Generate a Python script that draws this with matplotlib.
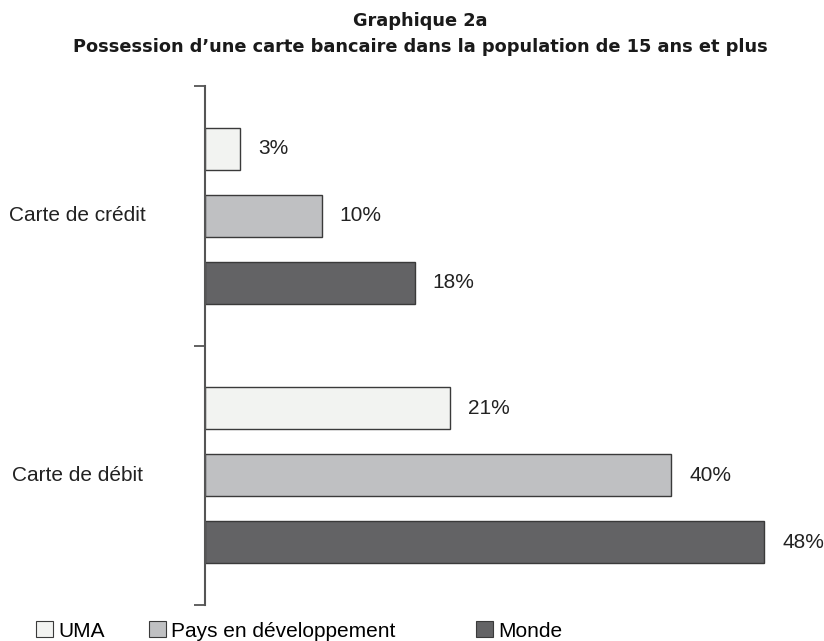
import numpy as np
import matplotlib
matplotlib.use("Agg")
import matplotlib.pyplot as plt
from matplotlib.patches import Patch

# Part de la population de 15 ans et plus possédant une carte (%)
categories = ["Carte de crédit", "Carte de débit"]
series = ["UMA", "Pays en développement", "Monde"]
uma = [3, 21]
pays_dev = [10, 40]
monde = [18, 48]

colors = ["#f2f3f1", "#bfc0c2", "#636365"]
edge = "#3a3a3a"

plt.rcParams["font.family"] = ["Liberation Sans", "DejaVu Sans"]

fig = plt.figure(figsize=(8.24, 6.41), dpi=100)
W, H = 824, 641
ax = fig.add_axes([205 / W, 1 - 605 / H, (811 - 205) / W, (605 - 86) / H])

# crédit en haut (1..2), débit en bas (0..1)
centers = [1.5, 0.5]
offsets = [-0.258, 0.0, 0.258]  # UMA au-dessus, Monde en dessous
bar_h = 0.162

for vals, off, col in zip([uma, pays_dev, monde], offsets, colors):
    ys = [c - off for c in centers]
    ax.barh(ys, vals, height=bar_h, color=col, edgecolor=edge, linewidth=1.0)
    for y, v in zip(ys, vals):
        ax.text(v + 1.55, y, f"{v}%", ha="left", va="center", fontsize=15,
                color="#222222")

for c, name in zip(centers, categories):
    ax.text(-0.21, c, name, transform=ax.get_yaxis_transform(),
            ha="center", va="center", fontsize=15, color="#222222")

ax.set_xlim(0, 52)
ax.set_ylim(0, 2)
ax.set_yticks([0, 1, 2])
ax.set_yticklabels([])
ax.tick_params(axis="y", length=8, width=1.3, color="#555555")
ax.set_xticks([])
for s in ["top", "right", "bottom"]:
    ax.spines[s].set_visible(False)
ax.spines["left"].set_color("#555555")
ax.spines["left"].set_linewidth(1.5)

title_kw = dict(ha="center", va="center", fontsize=12.75, fontweight="bold",
                family="DejaVu Sans", color="#1a1a1a")
fig.text(420 / W, 1 - 21 / H, "Graphique 2a", **title_kw)
fig.text(420 / W, 1 - 47 / H,
         "Possession d\u2019une carte bancaire dans la population de 15 ans et plus",
         **title_kw)

# une légende par entrée pour garder les écarts irréguliers
for col, name, x0 in zip(colors, series, [36, 149, 476]):
    fig.legend([Patch(facecolor=col, edgecolor=edge, linewidth=0.8)], [name],
               loc="center left", bbox_to_anchor=(x0 / W, 1 - 631 / H),
               frameon=False, fontsize=15, handlelength=0.8, handleheight=0.8,
               handletextpad=0.25, borderpad=0, borderaxespad=0)

fig.savefig("out.png", dpi=100)
